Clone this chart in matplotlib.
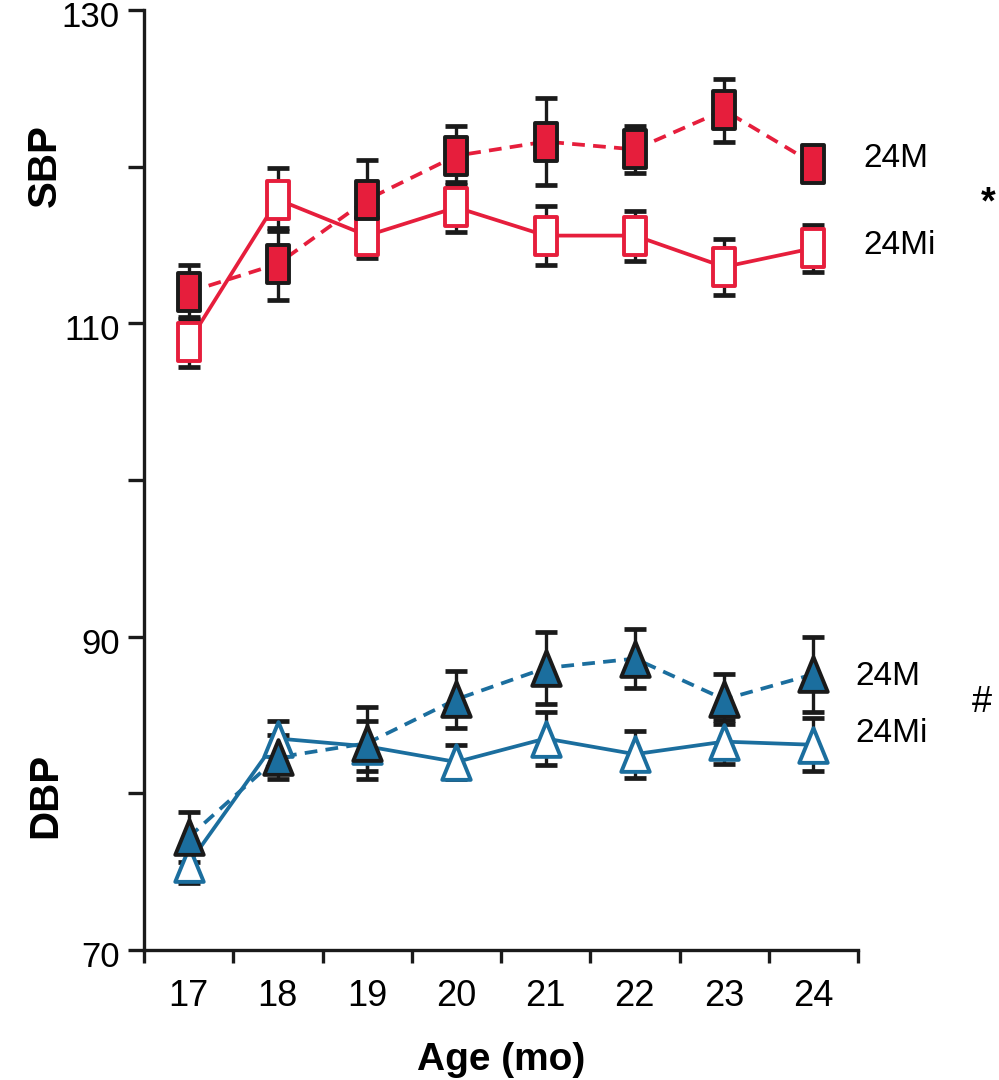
import matplotlib
matplotlib.use("Agg")
import matplotlib.pyplot as plt
import matplotlib.transforms as mtrans
import numpy as np
from matplotlib.path import Path

plt.rcParams['font.family'] = ['Liberation Sans', 'DejaVu Sans']

# ---- data ----
age = [17, 18, 19, 20, 21, 22, 23, 24]
sbp_24m = [112.0, 113.8, 117.9, 120.7, 121.6, 121.1, 123.6, 120.2]
sbp_24m_err = [1.7, 2.3, 2.5, 1.9, 2.8, 1.5, 2.0, 0.8]
sbp_24mi = [108.8, 117.9, 115.6, 117.4, 115.6, 115.6, 113.6, 114.8]
sbp_24mi_err = [1.6, 2.0, 1.4, 1.6, 1.9, 1.6, 1.8, 1.5]
dbp_24m = [77.2, 82.3, 83.2, 86.0, 88.0, 88.6, 86.0, 87.6]
dbp_24m_err = [1.6, 1.4, 2.3, 1.8, 2.3, 1.9, 1.6, 2.4]
dbp_24mi = [75.5, 83.5, 83.0, 82.0, 83.5, 82.5, 83.3, 83.1]
dbp_24mi_err = [1.2, 1.1, 1.6, 1.1, 1.7, 1.5, 1.4, 1.7]

RED = '#E61E3C'
BLUE = '#1B6E9E'

rect = Path([(-0.6, -1), (0.6, -1), (0.6, 1), (-0.6, 1), (-0.6, -1)],
            [Path.MOVETO, Path.LINETO, Path.LINETO, Path.LINETO, Path.CLOSEPOLY])
tri = Path([(0, 1), (-0.82, -1), (0.82, -1), (0, 1)],
           [Path.MOVETO, Path.LINETO, Path.LINETO, Path.CLOSEPOLY])

W, H = 999, 1080
fig = plt.figure(figsize=(W / 100, H / 100), dpi=100)
ax = fig.add_axes([144 / W, 1 - 950 / H, (858 - 144) / W, (950 - 10) / H])

lw = 2.7


def series(y, e, color, ls, marker, filled, ms):
    line, = ax.plot(age, y, color=color, lw=lw, zorder=2)
    if ls == 'dash':
        line.set_dashes((3.4, 2.2))
    ax.errorbar(age, y, yerr=e, fmt='none', ecolor='#1a1a1a', elinewidth=2.4,
                capsize=8, capthick=3.4, zorder=3)
    if filled:
        ax.plot(age, y, ls='none', marker=marker, ms=ms, mfc=color, mec='#1a1a1a',
                mew=2.8, zorder=5)
    else:
        ax.plot(age, y, ls='none', marker=marker, ms=ms, mfc='white', mec=color,
                mew=2.8, zorder=4)


series(sbp_24mi, sbp_24mi_err, RED, 'solid', rect, False, 27)
series(sbp_24m, sbp_24m_err, RED, 'dash', rect, True, 27)
series(dbp_24mi, dbp_24mi_err, BLUE, 'solid', tri, False, 25)
series(dbp_24m, dbp_24m_err, BLUE, 'dash', tri, True, 25)

ax.set_xlim(16.5, 24.5)
ax.set_ylim(70, 130)
for s in ['top', 'right']:
    ax.spines[s].set_visible(False)
for s in ['left', 'bottom']:
    ax.spines[s].set_linewidth(2.4)
    ax.spines[s].set_color('#1a1a1a')

ax.set_yticks([70, 80, 90, 100, 110, 120, 130])
ax.set_yticklabels(['70', '', '90', '', '110', '', '130'])
ax.tick_params(axis='y', length=11.5, width=2.4, color='#1a1a1a', labelsize=25, pad=6)
shift = mtrans.ScaledTranslation(0, -4 / 100, fig.dpi_scale_trans)
for lab in ax.get_yticklabels():
    lab.set_transform(lab.get_transform() + shift)

ax.set_xticks(np.arange(16.5, 24.6, 1.0))
ax.set_xticklabels([])
ax.tick_params(axis='x', which='major', length=9, width=2.4, color='#1a1a1a')
ax.set_xticks(age, minor=True)
ax.set_xticklabels([str(a) for a in age], minor=True)
ax.tick_params(axis='x', which='minor', length=0, labelsize=26, pad=21)

ax.set_xlabel('Age (mo)', fontsize=28, fontweight='bold', labelpad=20)

fig.text(45 / W, 1 - 166 / H, 'SBP', rotation=90, fontsize=29, fontweight='bold',
         ha='center', va='center')
fig.text(45 / W, 1 - 795 / H, 'DBP', rotation=90, fontsize=29, fontweight='bold',
         ha='center', va='center')

fig.text(863 / W, 1 - 167 / H, '24M', fontsize=24, ha='left', va='baseline')
fig.text(863 / W, 1 - 254 / H, '24Mi', fontsize=24, ha='left', va='baseline')
fig.text(988 / W, 1 - 213 / H, '*', fontsize=27, fontweight='bold', ha='center', va='baseline')
fig.text(855 / W, 1 - 685 / H, '24M', fontsize=24, ha='left', va='baseline')
fig.text(855 / W, 1 - 742 / H, '24Mi', fontsize=24, ha='left', va='baseline')
fig.text(982 / W, 1 - 712 / H, '#', fontsize=26, ha='center', va='baseline')

fig.savefig('out.png', dpi=100)
